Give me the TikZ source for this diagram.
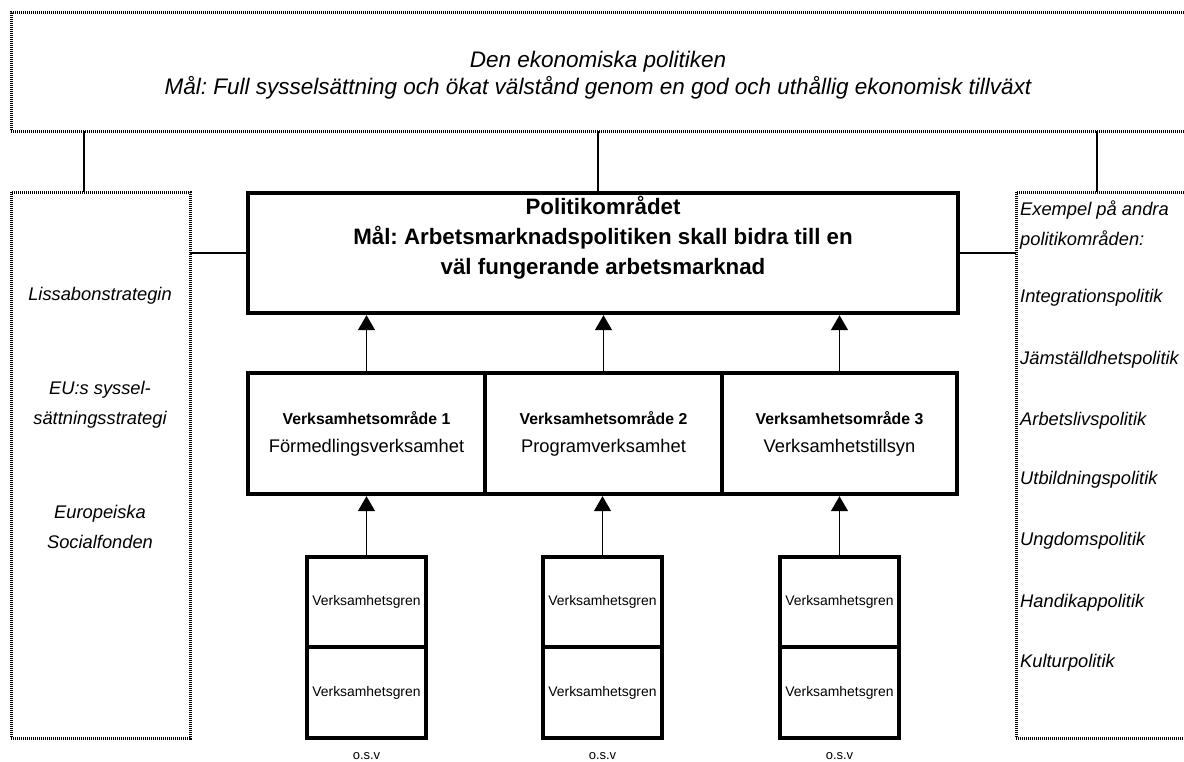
\documentclass[tikz,border=0pt]{standalone}
\usepackage{fontspec}
\setmainfont{Liberation Sans}
\usetikzlibrary{arrows.meta}
\frenchspacing
\begin{document}
\begin{tikzpicture}[x=1pt,y=-1pt,
  dotbox/.style={draw, line width=3pt, dash pattern=on 1pt off 1pt, rectangle, inner sep=0pt, outer sep=0pt, anchor=north west},
  thickbox/.style={draw, line width=4.5pt, rectangle, inner sep=0pt, outer sep=0pt, anchor=north west},
  conn/.style={line width=1.5pt},
  arr/.style={line width=1.5pt, shorten >=2.2pt, -{Triangle[width=17pt,length=15pt]}},
  ittext/.style={font=\fontsize{18.3}{30}\selectfont\itshape, inner sep=0pt},
  gren/.style={thickbox, minimum width=119pt, font=\fontsize{13.9}{16}\selectfont},
  osv/.style={font=\fontsize{13}{15}\selectfont, inner sep=0pt},
  vbox/.style={thickbox, minimum height=121pt, align=center, font=\fontsize{18.3}{28}\selectfont}
]
\clip (0,0) rectangle (1184,761);
% top box
\node[dotbox, minimum width=1174pt, minimum height=119pt] (eco) at (11,12) {};
\node[font=\fontsize{22.5}{27}\selectfont\itshape, align=center, inner sep=0pt] (ecotext) at (598,75)
  {Den ekonomiska politiken\\Mål: Full sysselsättning och ökat välstånd genom en god och uthållig ekonomisk tillväxt};
% side boxes
\node[dotbox, minimum width=179pt, minimum height=546pt] (lbox) at (11,192) {};
\node[dotbox, minimum width=180pt, minimum height=546pt] (rbox) at (1016,192) {};
% left texts
\node[ittext] (lt1) at (100,296) {Lissabonstrategin};
\node[ittext, align=center] (lt2) at (100,405) {EU:s syssel-\\sättningsstrategi};
\node[ittext, align=center] (lt3) at (100,527) {Europeiska\\Socialfonden};
% right texts
\node[ittext, align=left, anchor=west] (rt0) at (1020,225) {Exempel på andra\\politikområden:};
\node[ittext, anchor=west] (rt1) at (1020,298) {Integrationspolitik};
\node[ittext, anchor=west] (rt2) at (1020,360) {Jämställdhetspolitik};
\node[ittext, anchor=west] (rt3) at (1020,421) {Arbetslivspolitik};
\node[ittext, anchor=west] (rt4) at (1020,480) {Utbildningspolitik};
\node[ittext, anchor=west] (rt5) at (1020,541) {Ungdomspolitik};
\node[ittext, anchor=west] (rt6) at (1020,603) {Handikappolitik};
\node[ittext, anchor=west] (rt7) at (1020,663) {Kulturpolitik};
% politik box
\node[thickbox, minimum width=710pt, minimum height=120pt] (pol) at (248,193) {};
\node[font=\fontsize{22.3}{30}\selectfont\bfseries, align=center, inner sep=0pt] (poltext) at (603,238)
  {Politikområdet\\Mål: Arbetsmarknadspolitiken skall bidra till en\\väl fungerande arbetsmarknad};
% verksamhetsområden
\node[vbox, minimum width=237pt] (v1) at (248,373) {{\fontsize{15.8}{20}\selectfont\bfseries Verksamhetsområde 1}\\Förmedlingsverksamhet};
\node[vbox, minimum width=237pt] (v2) at (485,373) {{\fontsize{15.8}{20}\selectfont\bfseries Verksamhetsområde 2}\\Programverksamhet};
\node[vbox, minimum width=235pt] (v3) at (722,373) {{\fontsize{15.8}{20}\selectfont\bfseries Verksamhetsområde 3}\\Verksamhetstillsyn};
% verksamhetsgrenar
\node[gren, minimum height=90pt] (g1a) at (307,557) {Verksamhetsgren};
\node[gren, minimum height=91pt] (g1b) at (307,647) {Verksamhetsgren};
\node[gren, minimum height=90pt] (g2a) at (543,557) {Verksamhetsgren};
\node[gren, minimum height=91pt] (g2b) at (543,647) {Verksamhetsgren};
\node[gren, minimum height=90pt] (g3a) at (780,557) {Verksamhetsgren};
\node[gren, minimum height=91pt] (g3b) at (780,647) {Verksamhetsgren};
\node[osv] (o1) at ([yshift=-18pt]g1b.south) {o.s.v};
\node[osv] (o2) at ([yshift=-18pt]g2b.south) {o.s.v};
\node[osv] (o3) at ([yshift=-18pt]g3b.south) {o.s.v};
% connectors
\draw[conn] ([xshift=73pt]eco.south west) -- ([xshift=73pt]lbox.north west);
\draw[conn] (eco.south) -- (eco.south |- pol.north);
\draw[conn] ([xshift=81pt]rbox.north west |- eco.south) -- ([xshift=81pt]rbox.north west);
\draw[conn] (pol.west) -- (pol.west -| lbox.east);
\draw[conn] (pol.east) -- (pol.east -| rbox.west);
% arrows
\draw[arr] (v1.north) -- (v1.north |- pol.south);
\draw[arr] (v2.north) -- (v2.north |- pol.south);
\draw[arr] (v3.north) -- (v3.north |- pol.south);
\draw[arr] (g1a.north) -- (g1a.north |- v1.south);
\draw[arr] (g2a.north) -- (g2a.north |- v2.south);
\draw[arr] (g3a.north) -- (g3a.north |- v3.south);
\end{tikzpicture}
\end{document}
